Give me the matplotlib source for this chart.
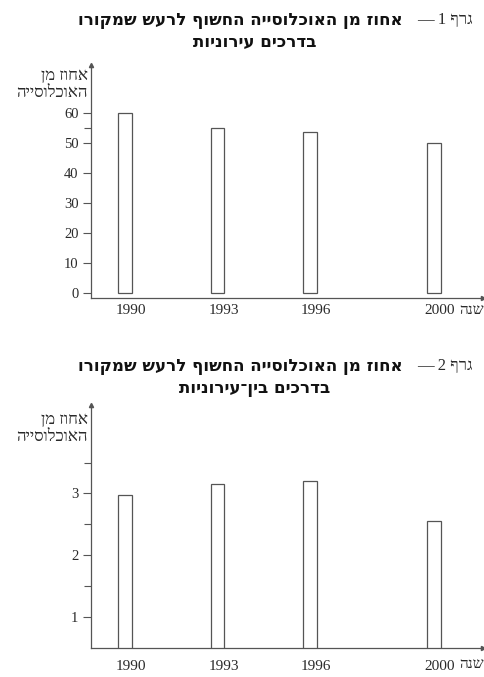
import matplotlib
matplotlib.use('Agg')
import matplotlib.pyplot as plt
from matplotlib.transforms import ScaledTranslation

years = [1990, 1993, 1996, 2000]
urban = [60, 55, 53.5, 50]
intercity = [2.98, 3.15, 3.2, 2.55]

title1_reg = "גרף 1 —"
title2_reg = "גרף 2 —"
title_bold = "אחוז מן האוכלוסייה החשוף לרעש שמקורו"
sub1 = "בדרכים עירוניות"
sub2 = "בדרכים בין־עירוניות"
ylab1 = "אחוז מן"
ylab2 = "האוכלוסייה"
xlab = "שנה"


def rtl(s):
    # matplotlib has no bidi support, so flip hebrew by hand
    return s[::-1]


W, H = 484, 677
fig = plt.figure(figsize=(W / 100, H / 100), dpi=100)
serif = ['Liberation Serif', 'DejaVu Serif', 'DejaVu Sans']
ink = '#2a2a2a'
line = '#555555'


def px(x, y):
    return x / W, 1 - y / H


def panel(top, bottom, vals, ylim, major, minor, label_pad, reg_title, sub, tl_y, ylab_y):
    l, t = px(91, top)
    r, b = px(483, bottom)
    ax = fig.add_axes([l, b, r - l, t - b])
    ax.bar(years, vals, width=0.45, color='white', edgecolor=line, linewidth=0.9)
    ax.set_xlim(1988.9, 2001.6)
    ax.set_ylim(*ylim)
    for s in ['top', 'right']:
        ax.spines[s].set_visible(False)
    for s in ['left', 'bottom']:
        ax.spines[s].set_color(line)
        ax.spines[s].set_linewidth(0.9)
    ax.plot(0, 1, '^', color=line, ms=3, transform=ax.transAxes, clip_on=False)
    ax.plot(1, 0, '>', color=line, ms=3, transform=ax.transAxes, clip_on=False)
    ax.set_yticks(major)
    ax.set_yticks(minor, minor=True)
    ax.tick_params(axis='y', which='major', length=6, width=0.8, color=line,
                   labelsize=10.5, labelcolor=ink, pad=3)
    ax.tick_params(axis='y', which='minor', length=5, width=0.8, color=line)
    ax.set_xticks(years)
    ax.set_xticklabels([str(y) for y in years])
    ax.tick_params(axis='x', length=0, labelsize=11, labelcolor=ink, pad=label_pad)
    for lbl in ax.get_xticklabels() + ax.get_yticklabels():
        lbl.set_family(serif)
    for lbl in ax.get_xticklabels():
        lbl.set_transform(lbl.get_transform() + ScaledTranslation(0.06, 0, fig.dpi_scale_trans))

    # titles
    fig.text(*px(473, tl_y), rtl(reg_title), ha='right', va='center',
             fontsize=12, family=serif, color=ink)
    fig.text(*px(403, tl_y), rtl(title_bold), ha='right', va='center',
             fontsize=12, fontweight='bold', family=['DejaVu Sans'], color='#111111')
    fig.text(*px(255, tl_y + 22), rtl(sub), ha='center', va='center',
             fontsize=12, fontweight='bold', family=['DejaVu Sans'], color='#111111')
    # axis labels
    fig.text(*px(88, ylab_y), rtl(ylab1), ha='right', va='center',
             fontsize=12, family=serif, color=ink)
    fig.text(*px(88, ylab_y + 17), rtl(ylab2), ha='right', va='center',
             fontsize=12, family=serif, color=ink)
    return ax


ax1 = panel(65, 298, urban, (-1.7, 76), [0, 10, 20, 30, 40, 50, 60], [55],
            4, title1_reg, sub1, 20, 76)
ax2 = panel(405, 648, intercity, (0.5, 4.43), [1, 2, 3], [1.5, 2.5, 3.5],
            9, title2_reg, sub2, 366, 420)

fig.text(*px(484, 311), rtl(xlab), ha='right', va='center', fontsize=11,
         family=serif, color=ink)
fig.text(*px(484, 665), rtl(xlab), ha='right', va='center', fontsize=11,
         family=serif, color=ink)

fig.savefig('out.png', dpi=100)
